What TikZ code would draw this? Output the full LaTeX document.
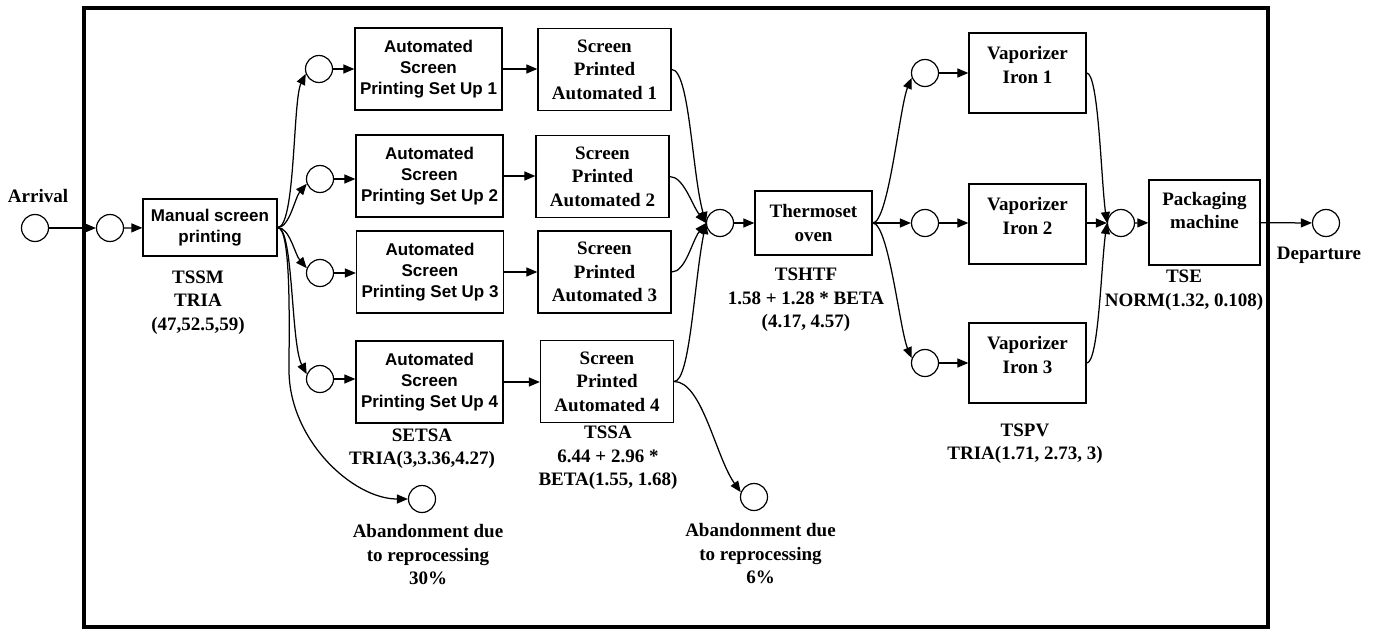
\documentclass[tikz,border=0pt]{standalone}
\usepackage{fontspec}
\setmainfont{Liberation Serif}
\setsansfont{Liberation Sans}
\usetikzlibrary{arrows.meta,calc}
\tikzset{
  conn/.style={line width=1.25pt, -{Triangle[length=11pt,width=9pt]}},
  circ/.style={circle, draw, line width=1.2pt, minimum size=27pt, inner sep=0pt},
  box/.style={draw, line width=1.3pt, inner sep=0pt},
  sbox/.style={box, font=\sffamily\bfseries\fontsize{17}{21}\selectfont, align=center},
  rbox/.style={box, font=\bfseries\fontsize{19}{23.5}\selectfont, align=center},
  rtxt/.style={font=\bfseries\fontsize{19}{23.5}\selectfont, align=center, inner sep=0pt},
  abox/.style={sbox, minimum width=147pt, minimum height=82pt},
  spbox/.style={rbox, minimum width=133pt, minimum height=82pt},
  vbox/.style={box, minimum width=117pt, minimum height=80pt},
}
\begin{document}
\begin{tikzpicture}[x=1pt,y=-1pt]
\useasboundingbox (0,0) rectangle (1375,629);
\node[draw, line width=3.2pt, minimum width=1184pt, minimum height=619pt, inner sep=0pt] (frame) at (676,317.5) {};

% circles
\node[circ] (arr) at (35,228) {};
\node[circ] (q1) at (110,228) {};
\node[circ] (c1) at (319,69) {};
\node[circ] (c2) at (320,179) {};
\node[circ] (c3) at (320,273) {};
\node[circ] (c4) at (320,379) {};
\node[circ] (ab1) at (422,499) {};
\node[circ] (m1) at (720,223) {};
\node[circ] (ab2) at (754,497) {};
\node[circ] (v1c) at (925,73) {};
\node[circ] (v2c) at (925,223) {};
\node[circ] (v3c) at (925,363) {};
\node[circ] (m2) at (1121,223) {};
\node[circ] (dep) at (1326,223) {};

% boxes
\node[sbox, minimum width=134pt, minimum height=57pt] (ms) at (210,227.5) {Manual screen\\printing};
\node[abox] (a1) at (428.5,69) {Automated\\Screen\\Printing Set Up 1};
\node[abox] (a2) at (429.5,176) {Automated\\Screen\\Printing Set Up 2};
\node[abox] (a3) at (430,272) {Automated\\Screen\\Printing Set Up 3};
\node[abox] (a4) at (429.5,382) {Automated\\Screen\\Printing Set Up 4};
\node[spbox] (s1) at (604.5,69.5) {Screen\\Printed\\Automated 1};
\node[spbox] (s2) at (602.5,176.5) {Screen\\Printed\\Automated 2};
\node[spbox] (s3) at (604.5,272) {Screen\\Printed\\Automated 3};
\node[spbox] (s4) at (607,381.5) {Screen\\Printed\\Automated 4};
\node[rbox, minimum width=117pt, minimum height=64pt] (th) at (813.5,223) {Thermoset\\oven};
\node[vbox] (v1) at (1027.5,73) {};
\node[vbox] (v2) at (1027.5,224) {};
\node[vbox] (v3) at (1027.5,363) {};
\node[rtxt] (v1t) at ([yshift=8pt]v1.center) {Vaporizer\\Iron 1};
\node[rtxt] (v2t) at ([yshift=8pt]v2.center) {Vaporizer\\Iron 2};
\node[rtxt] (v3t) at ([yshift=8pt]v3.center) {Vaporizer\\Iron 3};
\node[box, minimum width=111pt, minimum height=85pt] (pk) at (1204.5,222.5) {};
\node[rtxt] (pkt) at ([yshift=12pt]pk.center) {Packaging\\machine};

% labels
\node[rtxt] (larr) at (38,196) {Arrival};
\node[rtxt] (ldep) at (1319,255) {Departure};
\node[rtxt] (lms) at (198,302.5) {TSSM\\TRIA\\(47,52.5,59)};
\node[rtxt] (la4) at (422,448.5) {SETSA\\TRIA(3,3.36,4.27)};
\node[rtxt] (ls4) at (608,458) {TSSA\\6.44 + 2.96 *\\BETA(1.55, 1.68)};
\node[rtxt] (lab1) at (428,555) {Abandonment due\\to reprocessing\\30\%};
\node[rtxt] (lab2) at (760.5,554) {Abandonment due\\to reprocessing\\6\%};
\node[rtxt] (lth) at (806,300) {TSHTF\\1.58 + 1.28 * BETA\\(4.17, 4.57)};
\node[rtxt] (lv) at (1025,443.5) {TSPV\\TRIA(1.71, 2.73, 3)};
\node[rtxt] (lpk) at (1184,290) {TSE\\NORM(1.32, 0.108)};

% connectors
\draw[conn] (arr) -- (q1);
\draw[conn] (q1) -- (ms);
\draw[conn] (ms.east) .. controls +(18,0) and +(-13,26) .. (c1.200);
\draw[conn] (ms.east) .. controls +(12,0) and +(-12,14) .. (c2.200);
\draw[conn] (ms.east) .. controls +(12,0) and +(-12,-14) .. (c3.160);
\draw[conn] (ms.east) .. controls +(16,0) and +(-16,-30) .. (c4.160);
\draw[conn] (ms.east) .. controls +(14,0) and +(0,-40) .. (289,370) .. controls +(0,70) and +(-55,0) .. (ab1.west);
\draw[conn] (c1) -- (c1 -| a1.west);
\draw[conn] (c2) -- (c2 -| a2.west);
\draw[conn] (c3) -- (c3 -| a3.west);
\draw[conn] (c4) -- (c4 -| a4.west);
\draw[conn] (a1.east) -- (a1.east -| s1.west);
\draw[conn] (a2.east) -- (a2.east -| s2.west);
\draw[conn] (a3.east) -- (a3.east -| s3.west);
\draw[conn] (a4.east) -- (a4.east -| s4.west);
\draw[conn] (s1.east) .. controls +(18,0) and +(-14,-50) .. (m1.west);
\draw[conn] (s2.east) .. controls +(14,0) and +(-14,-18) .. (m1.west);
\draw[conn] (s3.east) .. controls +(14,0) and +(-14,18) .. (m1.west);
\draw[conn] (s4.east) .. controls +(16,0) and +(-12,60) .. (m1.west);
\draw[conn] (s4.east) .. controls +(28,0) and +(-25,-35) .. (ab2.160);
\draw[conn] (m1) -- (th);
\draw[conn] (th.east) .. controls +(16,0) and +(-12,28) .. (v1c.200);
\draw[conn] (th.east) -- (v2c);
\draw[conn] (th.east) .. controls +(16,0) and +(-12,-28) .. (v3c.160);
\draw[conn] (v1c) -- (v1c -| v1.west);
\draw[conn] (v2c) -- (v2c -| v2.west);
\draw[conn] (v3c) -- (v3c -| v3.west);
\draw[conn] (v1.east) .. controls +(12,0) and +(-6,-45) .. (m2.west);
\draw[conn] (v2.east |- m2) -- (m2);
\draw[conn] (v3.east) .. controls +(12,0) and +(-6,45) .. (m2.west);
\draw[conn] (m2) -- (pk);
\draw[conn] (pk) -- (dep);
\end{tikzpicture}
\end{document}
